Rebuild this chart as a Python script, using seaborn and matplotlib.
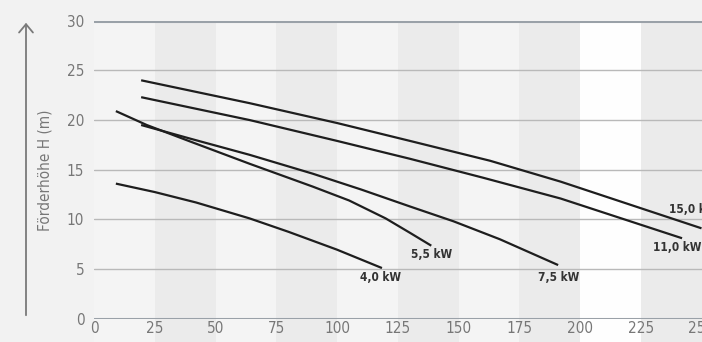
import numpy as np
import pandas as pd
import matplotlib
matplotlib.use("Agg")
import matplotlib.pyplot as plt
import seaborn as sns
from matplotlib.transforms import blended_transform_factory

# pump curves: flow Q (m3/h) vs head H (m)
q_40 = [9, 25, 42, 64, 80, 100, 118.5]
h_40 = [13.6, 12.75, 11.7, 10.1, 8.75, 6.95, 5.1]

q_55 = [9, 21.7, 40, 64, 90, 105, 120, 130, 138.8]
h_55 = [20.9, 19.5, 17.8, 15.6, 13.3, 11.9, 10.1, 8.65, 7.35]

q_75 = [19.4, 40, 64, 90, 110, 130, 148, 167, 191]
h_75 = [19.5, 18.1, 16.5, 14.6, 13.0, 11.3, 9.8, 8.0, 5.4]

q_110 = [19.4, 64, 100, 130, 160, 192, 242]
h_110 = [22.3, 20.0, 17.9, 16.1, 14.2, 12.1, 8.1]

q_150 = [19.4, 64, 100, 130, 163, 192, 250]
h_150 = [24.0, 21.7, 19.7, 17.9, 15.9, 13.8, 9.1]

series_names = ["4,0 kW", "5,5 kW", "7,5 kW", "11,0 kW", "15,0 kW"]
label_x = [117.8, 139.1, 191, 240, 236.6]
label_y = [4.1, 6.45, 4.1, 7.15, 11.0]

x_ticks = [0, 25, 50, 75, 100, 125, 150, 175, 200, 225, 250]
y_ticks = [0, 5, 10, 15, 20, 25, 30]
y_label = "Förderhöhe H (m)"

frames = []
for name, q, h in zip(series_names,
                      [q_40, q_55, q_75, q_110, q_150],
                      [h_40, h_55, h_75, h_110, h_150]):
    frames.append(pd.DataFrame({"Q": q, "H": h, "motor": name}))
df = pd.concat(frames, ignore_index=True)

sns.set_theme(style="white")
plt.rcParams["font.family"] = ["DejaVu Sans"]
plt.rcParams["font.stretch"] = "condensed"

fig = plt.figure(figsize=(7.02, 3.42), dpi=100, facecolor="#f2f2f2")
ax = fig.add_axes([94 / 702, 23.3 / 342, 607.5 / 702, 298 / 342])
ax.set_facecolor("none")

# vertical background bands (reach down below the axis)
band_colors = ["#f4f4f4", "#ebebeb", "#f4f4f4", "#ebebeb", "#f4f4f4",
               "#ebebeb", "#f4f4f4", "#ebebeb", "#fefefe", "#ebebeb"]
trans = blended_transform_factory(ax.transData, ax.transAxes)
for i, c in enumerate(band_colors):
    ax.add_patch(plt.Rectangle((x_ticks[i], -0.1), 25, 1.1, transform=trans,
                               facecolor=c, edgecolor="none", zorder=0,
                               clip_on=False))

for y in y_ticks:
    if y in (0, 30):
        ax.axhline(y, color="#9aa1a8", lw=2.2, zorder=1)
    else:
        ax.axhline(y, color="#b9b9b9", lw=1.0, zorder=1)

sns.lineplot(data=df, x="Q", y="H", hue="motor", sort=False,
             palette=["#1e1e1e"] * 5, lw=1.6, legend=False, ax=ax, zorder=3,
             solid_joinstyle="round", solid_capstyle="butt")

for name, lx, ly in zip(series_names, label_x, label_y):
    ax.text(lx, ly, name, ha="left" if name.startswith("15") else "center",
            va="center", fontsize=8.5, color="#333333", fontweight="bold",
            clip_on=False, zorder=4)

ax.set_xlim(0, 250)
ax.set_ylim(0, 30)
ax.set_xticks(x_ticks)
ax.set_yticks(y_ticks)
ax.set_xlabel("")
ax.set_ylabel("")
for s in ax.spines.values():
    s.set_visible(False)
ax.tick_params(axis="both", length=0, labelsize=11, labelcolor="#777777")
ax.tick_params(axis="x", pad=2)
ax.tick_params(axis="y", pad=7)

# y-axis arrow and title
fig.add_artist(matplotlib.patches.FancyArrowPatch(
    (26 / 702, (342 - 318) / 342), (26 / 702, (342 - 20) / 342),
    transform=fig.transFigure, arrowstyle="->,head_length=6,head_width=5",
    color="#7a7a7a", lw=1.3))
fig.text(45 / 702, (342 - 170) / 342, y_label, rotation=90, ha="center",
         va="center", fontsize=11, color="#777777")

fig.savefig("out.png", dpi=100, facecolor=fig.get_facecolor())
